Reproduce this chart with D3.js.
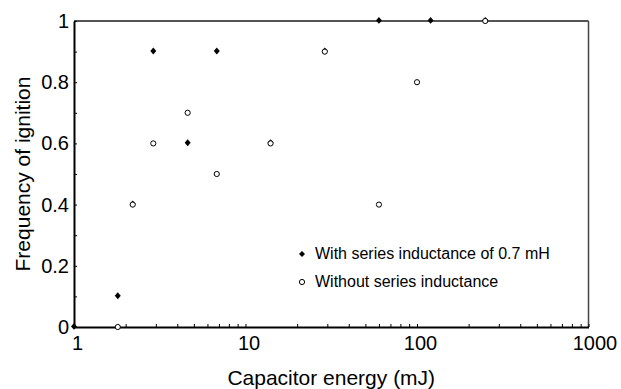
<!DOCTYPE html>
<html>
<head>
<meta charset="utf-8">
<title>Frequency of ignition</title>
<script src="https://d3js.org/d3.v7.min.js"></script>
<style>
body { margin: 0; background: #fff; }
svg { display: block; font-family: "Liberation Sans", Arial, sans-serif; }
.axis path { stroke: #000; stroke-width: 2; }
.axis line { stroke: #000; stroke-width: 1; }
.axis text { fill: #000; font-size: 20px; font-family: "Liberation Sans", Arial, sans-serif; }
</style>
</head>
<body>
<script>
// with series inductance of 0.7 mH
const withEnergy = [1, 1.8, 2.2, 2.9, 4.6, 6.8, 14, 29, 60, 120, 250];
const withFreq   = [0, 0.1, 0.4, 0.9, 0.6, 0.9, 0.6, 0.9, 1, 1, 1];
// without series inductance
const withoutEnergy = [1.8, 2.2, 2.9, 4.6, 6.8, 14, 29, 60, 100, 250];
const withoutFreq   = [0, 0.4, 0.6, 0.7, 0.5, 0.6, 0.9, 0.4, 0.8, 1];

const xMajor = [1, 10, 100, 1000];
const yTicks = d3.range(0, 11).map(i => i / 10);
const legendLabels = ["With series inductance of 0.7 mH", "Without series inductance"];

const width = 621, height = 389;
const margin = {left: 74, right: 32.5, top: 21, bottom: 62};

const svg = d3.select("body").append("svg")
    .attr("width", width)
    .attr("height", height);

const x = d3.scaleLog()
    .domain([1, 1000])
    .range([margin.left, width - margin.right]);

const y = d3.scaleLinear()
    .domain([0, 1])
    .range([height - margin.bottom, margin.top]);

// all log ticks: 1..9, 10..90, 100..1000
const xTicks = [];
xMajor.slice(0, 3).forEach(m => {
  for (let k = 1; k < 10; k++) xTicks.push(m * k);
});
xTicks.push(1000);

// frame top and right
svg.append("line")
    .attr("x1", x(1)).attr("x2", x(1000))
    .attr("y1", y(1)).attr("y2", y(1))
    .attr("stroke", "#555").attr("stroke-width", 2);
svg.append("line")
    .attr("x1", x(1000)).attr("x2", x(1000))
    .attr("y1", y(1)).attr("y2", y(0))
    .attr("stroke", "#444").attr("stroke-width", 1.5);

const xAxis = svg.append("g")
    .attr("class", "axis")
    .attr("transform", `translate(0,${y(0)})`)
    .call(d3.axisBottom(x)
      .tickValues(xTicks)
      .tickSizeInner(-3)
      .tickSizeOuter(0)
      .tickPadding(9)
      .tickFormat(d => xMajor.includes(d) ? d : ""));
xAxis.selectAll("text").attr("dx", d => d === 1000 ? 6 : 3);

svg.append("g")
    .attr("class", "axis")
    .attr("transform", `translate(${x(1)},0)`)
    .call(d3.axisLeft(y)
      .tickValues(yTicks)
      .tickSizeInner(-3)
      .tickSizeOuter(0)
      .tickPadding(5)
      .tickFormat(d => Math.round(d * 10) % 2 === 0 ? d3.format("~g")(d) : ""));

const diamond = d3.symbol().type(d3.symbolSquare).size(18);

svg.append("g")
  .selectAll("path")
  .data(withEnergy.map((e, i) => [e, withFreq[i]]))
  .join("path")
    .attr("d", diamond)
    .attr("transform", d => `translate(${x(d[0])},${y(d[1]) - 0.6}) scale(1,1.15) rotate(45)`)
    .attr("fill", "#000");

svg.append("g")
  .selectAll("circle")
  .data(withoutEnergy.map((e, i) => [e, withoutFreq[i]]))
  .join("circle")
    .attr("cx", d => x(d[0]))
    .attr("cy", d => y(d[1]))
    .attr("r", 2.6)
    .attr("fill", "#fff")
    .attr("stroke", "#000")
    .attr("stroke-width", 1);

// legend
const legend = svg.append("g").attr("transform", "translate(302,254)");
legend.append("path")
    .attr("d", diamond)
    .attr("transform", "rotate(45)")
    .attr("fill", "#000");
legend.append("circle")
    .attr("cx", 0).attr("cy", 28)
    .attr("r", 2.6)
    .attr("fill", "#fff").attr("stroke", "#000");
legend.selectAll("text")
  .data(legendLabels)
  .join("text")
    .attr("x", 13)
    .attr("y", (d, i) => 5 + i * 28)
    .attr("font-size", 16)
    .text(d => d);

// axis titles
svg.append("text")
    .attr("x", (x(1) + x(1000)) / 2)
    .attr("y", 385)
    .attr("text-anchor", "middle")
    .attr("font-size", 21)
    .text("Capacitor energy (mJ)");

svg.append("text")
    .attr("transform", `translate(30,${(y(0) + y(1)) / 2}) rotate(-90)`)
    .attr("text-anchor", "middle")
    .attr("font-size", 21)
    .text("Frequency of ignition");
</script>
</body>
</html>
